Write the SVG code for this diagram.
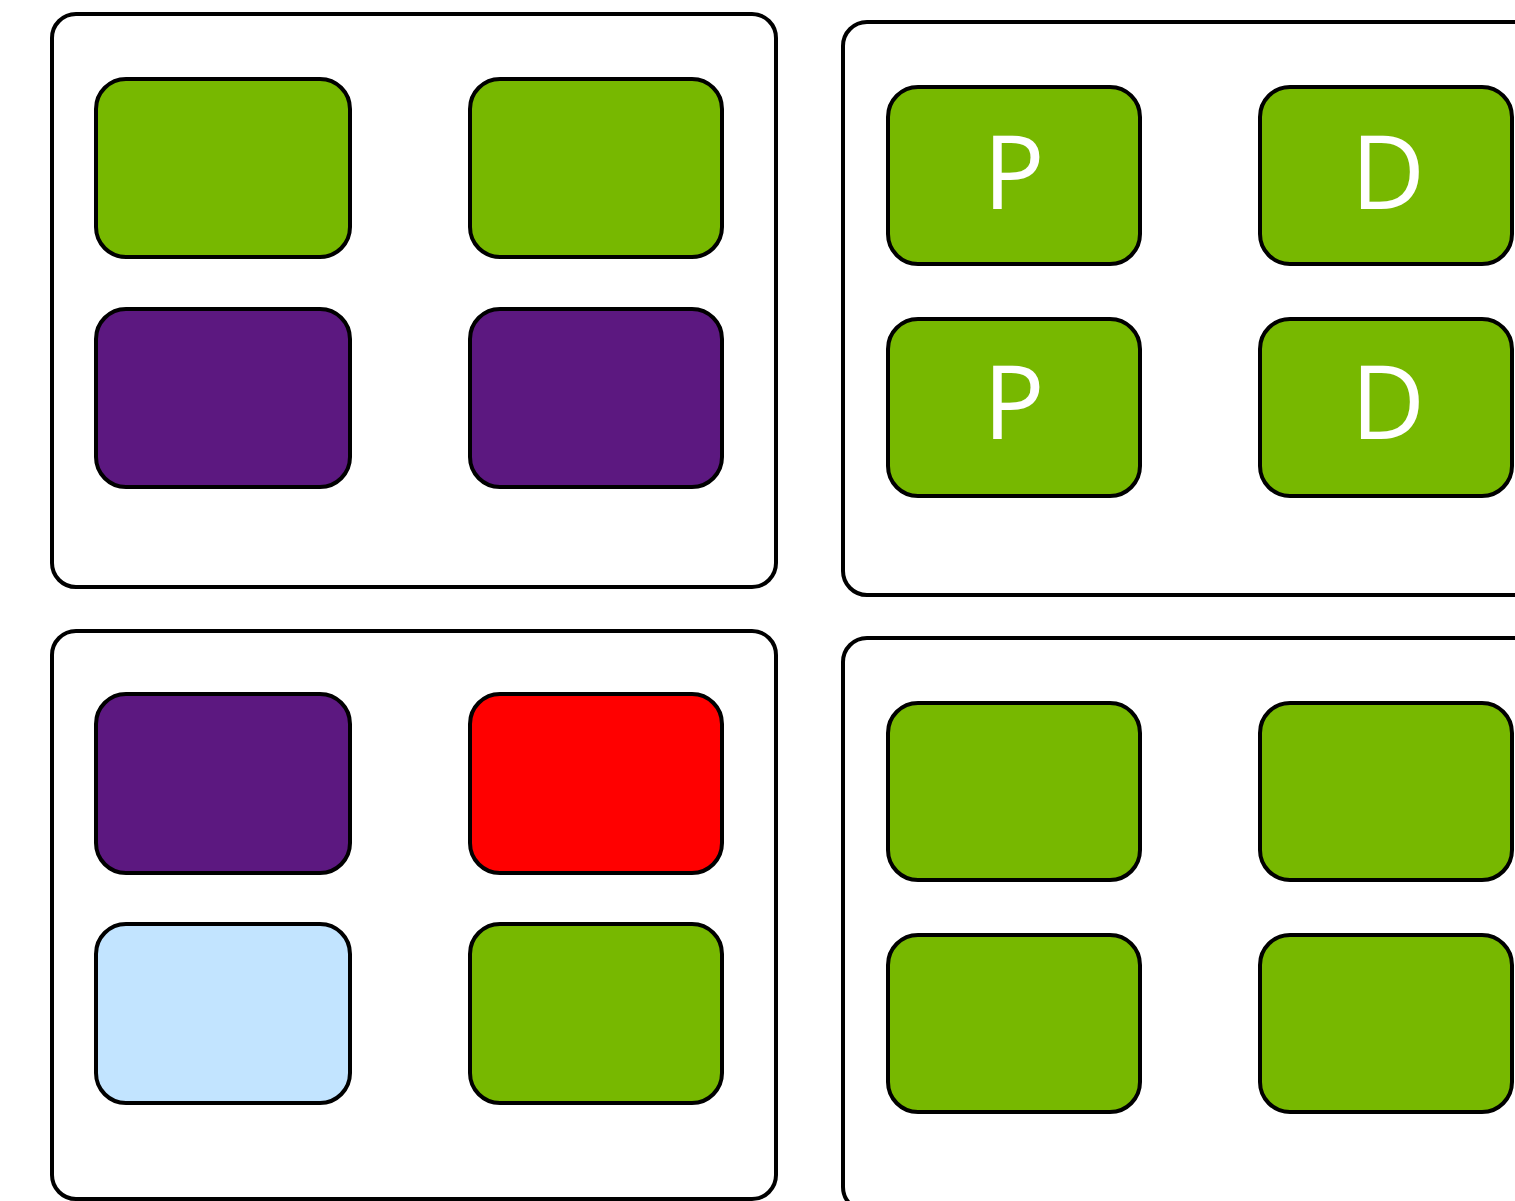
<svg xmlns="http://www.w3.org/2000/svg" width="1515" height="1201" viewBox="0 0 1515 1201">
<style>
.panel{fill:#fff;stroke:#000;stroke-width:4}
.box{stroke:#000;stroke-width:4}
.g{fill:#77B800}
.p{fill:#5C1880}
.r{fill:#FF0000}
.b{fill:#C2E4FF}
.t{font-family:"Open Sans",sans-serif;font-size:102px;fill:#fff;text-anchor:middle}
</style>
<rect width="1515" height="1201" fill="#fff"/>
<g id="panel-tl">
<rect class="panel" x="52" y="14" width="724" height="573" rx="24"/>
<g id="tl-1"><rect class="box g" x="96" y="79" width="254" height="178" rx="30"/></g>
<g id="tl-2"><rect class="box g" x="470" y="79" width="252" height="178" rx="30"/></g>
<g id="tl-3"><rect class="box p" x="96" y="309" width="254" height="178" rx="30"/></g>
<g id="tl-4"><rect class="box p" x="470" y="309" width="252" height="178" rx="30"/></g>
</g>
<g id="panel-tr">
<rect class="panel" x="843" y="22" width="724" height="573" rx="24"/>
<g id="tr-1"><rect class="box g" x="888" y="87" width="252" height="177" rx="30"/><text class="t" x="1014" y="209">P</text></g>
<g id="tr-2"><rect class="box g" x="1260" y="87" width="252" height="177" rx="30"/><text class="t" x="1388" y="209">D</text></g>
<g id="tr-3"><rect class="box g" x="888" y="319" width="252" height="177" rx="30"/><text class="t" x="1014" y="439">P</text></g>
<g id="tr-4"><rect class="box g" x="1260" y="319" width="252" height="177" rx="30"/><text class="t" x="1388" y="439">D</text></g>
</g>
<g id="panel-bl">
<rect class="panel" x="52" y="631" width="724" height="568" rx="24"/>
<g id="bl-1"><rect class="box p" x="96" y="694" width="254" height="179" rx="30"/></g>
<g id="bl-2"><rect class="box r" x="470" y="694" width="252" height="179" rx="30"/></g>
<g id="bl-3"><rect class="box b" x="96" y="924" width="254" height="179" rx="30"/></g>
<g id="bl-4"><rect class="box g" x="470" y="924" width="252" height="179" rx="30"/></g>
</g>
<g id="panel-br">
<rect class="panel" x="843" y="638" width="724" height="573" rx="24"/>
<g id="br-1"><rect class="box g" x="888" y="703" width="252" height="177" rx="30"/></g>
<g id="br-2"><rect class="box g" x="1260" y="703" width="252" height="177" rx="30"/></g>
<g id="br-3"><rect class="box g" x="888" y="935" width="252" height="177" rx="30"/></g>
<g id="br-4"><rect class="box g" x="1260" y="935" width="252" height="177" rx="30"/></g>
</g>
<g id="connectors"/>
</svg>
